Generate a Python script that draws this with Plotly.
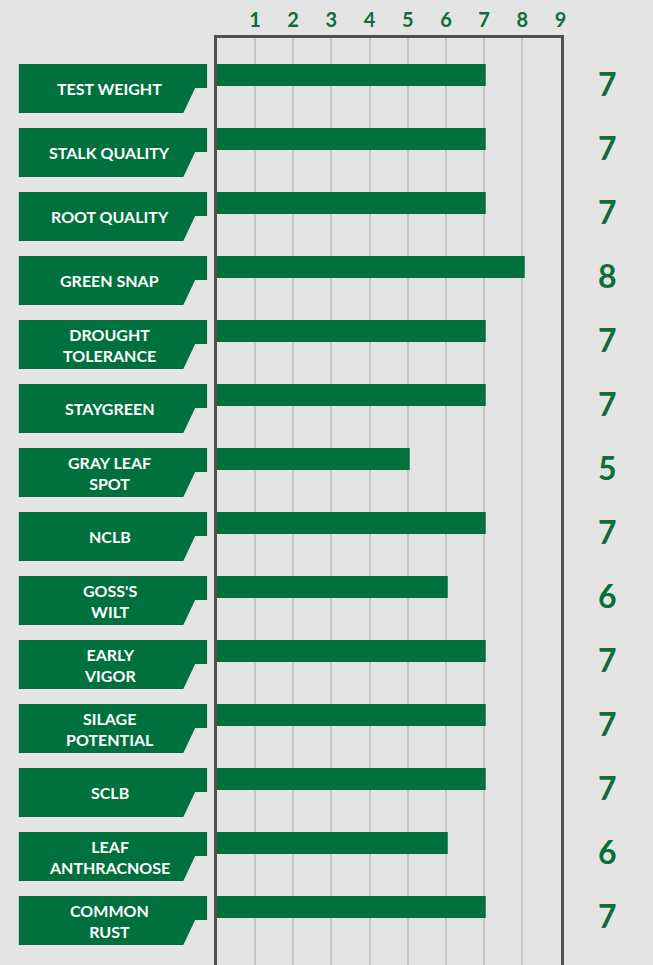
import plotly.graph_objects as go

# ---- data ----
traits = ["TEST WEIGHT", "STALK QUALITY", "ROOT QUALITY", "GREEN SNAP",
          "DROUGHT<br>TOLERANCE", "STAYGREEN", "GRAY LEAF<br>SPOT", "NCLB",
          "GOSS'S<br>WILT", "EARLY<br>VIGOR", "SILAGE<br>POTENTIAL", "SCLB",
          "LEAF<br>ANTHRACNOSE", "COMMON<br>RUST"]
scores = [7, 7, 7, 8, 7, 7, 5, 7, 6, 7, 7, 7, 6, 7]
tick_vals = [1, 2, 3, 4, 5, 6, 7, 8, 9]

# ---- style ----
W, H = 653, 965
GREEN = "#00703C"
TXT_GREEN = "#0B6E3B"
BG = "#E4E4E4"
FONT = "Lato"
x0px, x1px, toppx = 218.75, 565.75, 38
pitch = 64.0
first_c = 75.0
n = len(traits)

idx = list(range(n))
ytop = -(first_c - toppx) / pitch
ybot = (n - 1) + (H - (first_c + (n - 1) * pitch)) / pitch

fig = go.Figure()
fig.add_trace(go.Bar(
    x=scores, y=idx, orientation="h", width=18 / pitch,
    marker=dict(color=GREEN, line=dict(color=GREEN, width=4)),
    hoverinfo="skip",
))

def px(xp):
    return xp / W

shapes = []
annots = []
for i, (t, s) in enumerate(zip(traits, scores)):
    a = -11 / pitch
    b = 13 / pitch
    c = 38 / pitch
    path = (f"M {px(19)},{i + a} L {px(209)},{i + a} L {px(209)},{i + b} "
            f"L {px(197)},{i + b} L {px(185)},{i + c} L {px(19)},{i + c} Z")
    shapes.append(dict(type="path", path=path, xref="paper", yref="y",
                       fillcolor=GREEN, line=dict(width=0), layer="above"))
    annots.append(dict(text=t, x=px(111), y=i + (88.5 - first_c) / pitch,
                       xref="paper", yref="y", showarrow=False,
                       xanchor="center", yanchor="middle", align="center",
                       font=dict(family=FONT, size=16, color="white", weight=700)))
    annots.append(dict(text=str(s), x=px(613), y=i + (83.5 - first_c) / pitch,
                       xref="paper", yref="y", showarrow=False,
                       xanchor="center", yanchor="middle",
                       font=dict(family=FONT, size=32, color=TXT_GREEN, weight=700)))

fig.update_layout(
    width=W, height=H,
    margin=dict(l=0, r=0, t=0, b=0),
    paper_bgcolor=BG, plot_bgcolor=BG,
    showlegend=False,
    shapes=shapes, annotations=annots,
    bargap=0,
    xaxis=dict(domain=[x0px / W, x1px / W], range=[0, 9], side="top",
               tickvals=tick_vals, ticktext=[str(v) for v in tick_vals],
               tickfont=dict(family=FONT, size=20, color=TXT_GREEN, weight=700),
               showgrid=True, gridcolor="#C6C6C6", gridwidth=1.5,
               showline=True, linecolor="#505050", linewidth=2.5, mirror=False,
               zeroline=False, ticks="", fixedrange=True),
    yaxis=dict(domain=[0, 1 - toppx / H], range=[ybot, ytop],
               showticklabels=False, showgrid=False, zeroline=False,
               showline=True, linecolor="#505050", linewidth=2.5, mirror=True,
               ticks="", fixedrange=True),
)

fig.write_html("out.html", config={"displayModeBar": False},
               post_script="document.body.style.margin='0';"
                           "document.body.style.padding='0';"
                           "document.body.style.overflow='hidden';"
                           "document.documentElement.style.overflow='hidden';"
                           "document.body.style.background='#E4E4E4';")
